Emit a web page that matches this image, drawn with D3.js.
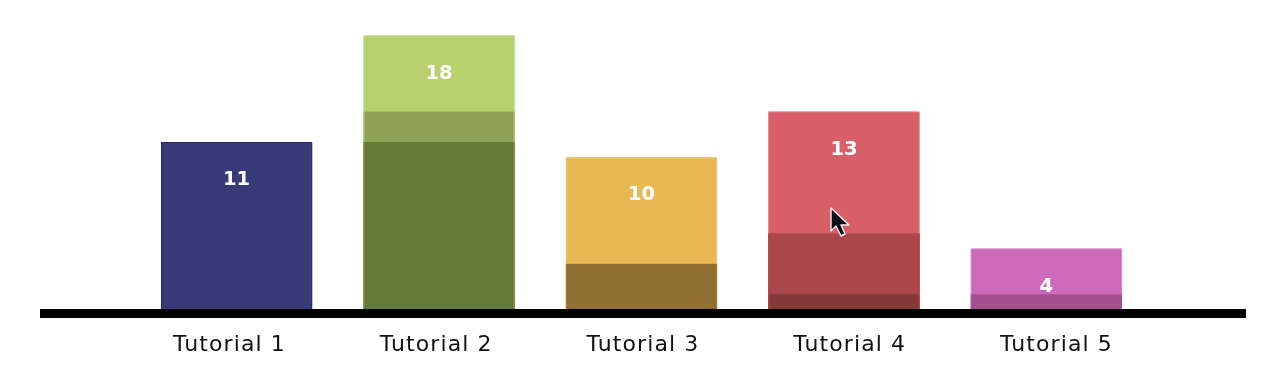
<!DOCTYPE html>
<html>
<head>
<meta charset="utf-8">
<script src="https://cdn.jsdelivr.net/npm/d3@7"></script>
<style>
html,body{margin:0;padding:0;background:#fff;overflow:hidden}
svg{display:block;filter:blur(0.45px)}
.axis text{font-family:"DejaVu Sans",sans-serif;font-size:22px;letter-spacing:1.1px;fill:#111}
.val{font-family:"DejaVu Sans",sans-serif;font-size:19.5px;font-weight:bold;fill:#fff;text-anchor:middle;dominant-baseline:central}
</style>
</head>
<body>
<svg id="c" width="1288" height="379"></svg>
<script>
const categories = ["Tutorial 1","Tutorial 2","Tutorial 3","Tutorial 4","Tutorial 5"];
const values = [11,18,10,13,4];
const barColors = ["#383A78","#B7D16C","#E8B952","#D85F69","#CC6AB9"];
const edgeColors = ["#24246F","#C6DB8E","#EDC677","#E07E86","#D98ACB"];
const overlayA = [null,13,3,5,1];
const overlayAColors = [null,"#8DA254","#8F6E32","#A9474A","#A34F90"];
const overlayB = [null,11,null,1,null];
const overlayBColors = [null,"#637A38",null,"#843A39",null];
const darkEdgeTops = [null,11,3,5,1];
const darkEdgeColors = [null,"#4F6A10","#7D5E22","#981818","#8F3F80"];

const svg = d3.select("#c");
const x = d3.scaleBand().domain(categories).range([161,1122]).paddingInner(0.2532).paddingOuter(0);
const y = d3.scaleLinear().domain([0,18]).range([309.5,35.5]);
const labelX = d3.scalePoint().domain(categories).range([229,1056]);

const rows = categories.map((c,i)=>({c,i,v:values[i]}));

function layer(vals, colors){
  svg.append("g").selectAll("rect")
    .data(rows.filter(d=>vals[d.i]!=null))
    .join("rect")
    .attr("x",d=>x(d.c)).attr("width",x.bandwidth())
    .attr("y",d=>y(vals[d.i])).attr("height",d=>y(0)-y(vals[d.i]))
    .attr("fill",d=>colors[d.i]);
}
layer(values,barColors);
layer(overlayA,overlayAColors);
layer(overlayB,overlayBColors);

// thin side edges of the bars (the outer edge also runs over the top)
function edges(vals, colors, withTop){
  const g = svg.append("g").attr("fill","none").attr("stroke-width",1);
  rows.filter(d=>vals[d.i]!=null).forEach(d=>{
    const a=x(d.c)+.5,b=x(d.c)+x.bandwidth()-.5,t=y(vals[d.i]);
    if(withTop){
      g.append("path").attr("d",d3.line()([[a,y(0)],[a,t+.5],[b,t+.5],[b,y(0)]])).attr("stroke",colors[d.i]).attr("stroke-opacity",.8);
    } else {
      [a,b].forEach(e=>g.append("path").attr("d",d3.line()([[e,y(0)],[e,t]])).attr("stroke",colors[d.i]).attr("stroke-opacity",.7));
    }
  });
}
edges(values,edgeColors,true);
edges(darkEdgeTops,darkEdgeColors,false);

// value labels sit under the top of each bar
svg.append("g").selectAll("text").data(rows).join("text")
  .attr("class","val")
  .attr("x",d=>x(d.c)+x.bandwidth()/2)
  .attr("y",d=>y(d.v)+36.5)
  .text(d=>d.v);

// baseline
svg.append("line").attr("x1",40).attr("x2",1246).attr("y1",313.5).attr("y2",313.5)
  .attr("stroke","#000").attr("stroke-width",9);

// category axis
const ax = svg.append("g").attr("class","axis").attr("transform","translate(0,318)")
  .call(d3.axisBottom(labelX).tickSize(0).tickPadding(0));
ax.select(".domain").remove();
ax.selectAll("text").attr("dy",0).attr("y",32.5).style("text-anchor","middle");

// mouse pointer captured in the screenshot
svg.append("path")
  .attr("transform","translate(831,208)")
  .attr("d","M0,0 L0,23 L5,18 L10,28 L14,26 L10,17 L18,17 Z")
  .attr("fill","#0c0c1c").attr("stroke","#f4f0f0").attr("stroke-width",1.4).attr("stroke-linejoin","round");
</script>
</body>
</html>
